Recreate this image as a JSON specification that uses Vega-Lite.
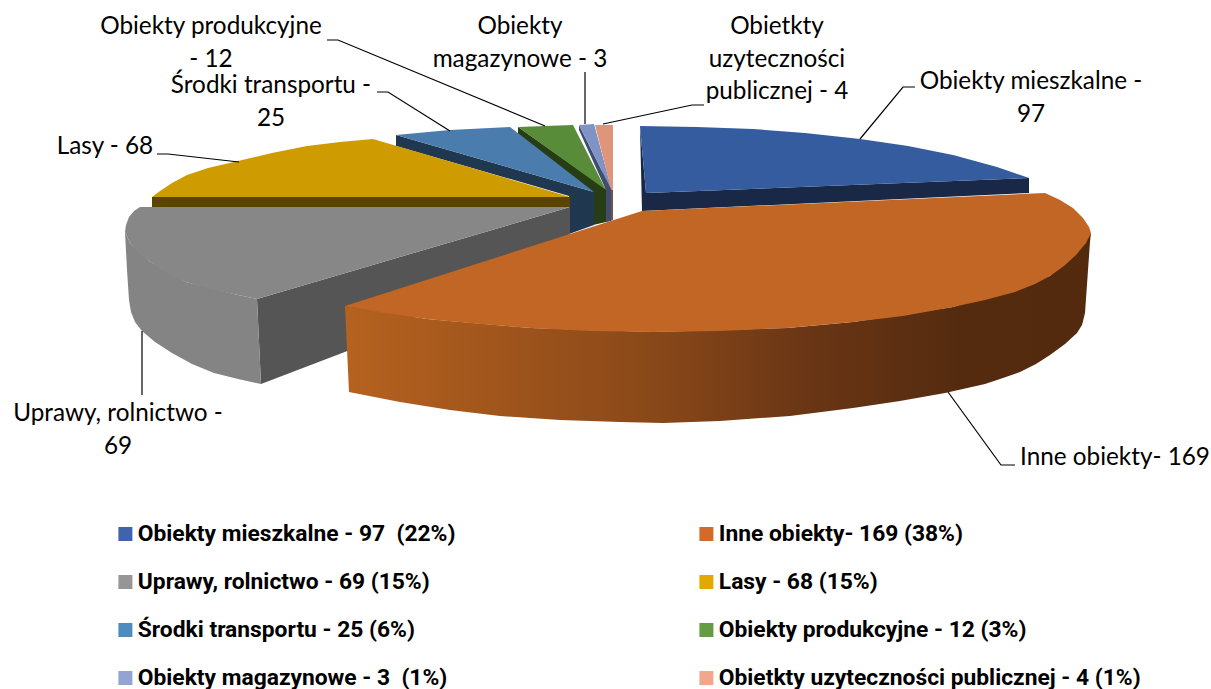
{"$schema":"https://vega.github.io/schema/vega-lite/v6.json","width":1211,"height":689,"padding":0,"autosize":{"type":"none"},"background":"white","view":{"stroke":null},
"datasets":{
"outline":[
{"p":"uzytecznosc side","s":1,"x":594,"y":125},{"p":"uzytecznosc side","s":2,"x":611,"y":189},{"p":"uzytecznosc side","s":3,"x":613,"y":190},{"p":"uzytecznosc side","s":4,"x":613,"y":220},{"p":"uzytecznosc side","s":5,"x":606,"y":222},{"p":"uzytecznosc side","s":6,"x":606,"y":190},
{"p":"uzytecznosc top","s":1,"x":595,"y":125},{"p":"uzytecznosc top","s":2,"x":613,"y":125},{"p":"uzytecznosc top","s":3,"x":613,"y":190},{"p":"uzytecznosc top","s":4,"x":611,"y":189},
{"p":"magazynowe side","s":1,"x":579,"y":125},{"p":"magazynowe side","s":2,"x":611,"y":189},{"p":"magazynowe side","s":3,"x":611,"y":221},{"p":"magazynowe side","s":4,"x":606,"y":222},{"p":"magazynowe side","s":5,"x":606,"y":190},{"p":"magazynowe side","s":6,"x":579,"y":130},
{"p":"magazynowe top","s":1,"x":579,"y":125},{"p":"magazynowe top","s":2,"x":594,"y":124},{"p":"magazynowe top","s":3,"x":611,"y":189},
{"p":"produkcyjne side","s":1,"x":518,"y":127},{"p":"produkcyjne side","s":2,"x":606,"y":189},{"p":"produkcyjne side","s":3,"x":606,"y":222},{"p":"produkcyjne side","s":4,"x":593,"y":225},{"p":"produkcyjne side","s":5,"x":593,"y":192},{"p":"produkcyjne side","s":6,"x":518,"y":134},
{"p":"produkcyjne top","s":1,"x":518,"y":127},{"p":"produkcyjne top","s":2,"x":545,"y":126},{"p":"produkcyjne top","s":3,"x":573,"y":125},{"p":"produkcyjne top","s":4,"x":606,"y":190},
{"p":"transport side","s":1,"x":396,"y":135},{"p":"transport side","s":2,"x":594,"y":192},{"p":"transport side","s":3,"x":594,"y":225},{"p":"transport side","s":4,"x":569,"y":234},{"p":"transport side","s":5,"x":569,"y":196},{"p":"transport side","s":6,"x":396,"y":146},
{"p":"transport top","s":1,"x":396,"y":135},{"p":"transport top","s":2,"x":450,"y":130},{"p":"transport top","s":3,"x":510,"y":127},{"p":"transport top","s":4,"x":594,"y":192},
{"p":"lasy side","s":1,"x":152,"y":197},{"p":"lasy side","s":2,"x":570,"y":197},{"p":"lasy side","s":3,"x":570,"y":207},{"p":"lasy side","s":4,"x":152,"y":207},
{"p":"lasy top","s":1,"x":152,"y":197},{"p":"lasy top","s":2,"x":160,"y":191},{"p":"lasy top","s":3,"x":172,"y":183},{"p":"lasy top","s":4,"x":187,"y":175},{"p":"lasy top","s":5,"x":208,"y":168},{"p":"lasy top","s":6,"x":238,"y":161},{"p":"lasy top","s":7,"x":272,"y":153},{"p":"lasy top","s":8,"x":307,"y":146},{"p":"lasy top","s":9,"x":340,"y":142},{"p":"lasy top","s":10,"x":373,"y":139},{"p":"lasy top","s":11,"x":570,"y":197},
{"p":"uprawy dark","s":1,"x":570,"y":207},{"p":"uprawy dark","s":2,"x":257,"y":299},{"p":"uprawy dark","s":3,"x":261,"y":384},{"p":"uprawy dark","s":4,"x":350,"y":350},{"p":"uprawy dark","s":5,"x":570,"y":234},
{"p":"mieszkalne side","s":1,"x":640,"y":126},{"p":"mieszkalne side","s":2,"x":646,"y":193},{"p":"mieszkalne side","s":3,"x":1029,"y":178},{"p":"mieszkalne side","s":4,"x":1029,"y":193},{"p":"mieszkalne side","s":5,"x":642,"y":211},
{"p":"mieszkalne top","s":1,"x":640,"y":126},{"p":"mieszkalne top","s":2,"x":697,"y":127},{"p":"mieszkalne top","s":3,"x":753,"y":129},{"p":"mieszkalne top","s":4,"x":805,"y":133},{"p":"mieszkalne top","s":5,"x":860,"y":139},{"p":"mieszkalne top","s":6,"x":908,"y":146},{"p":"mieszkalne top","s":7,"x":953,"y":155},{"p":"mieszkalne top","s":8,"x":997,"y":167},{"p":"mieszkalne top","s":9,"x":1029,"y":178},{"p":"mieszkalne top","s":10,"x":646,"y":193},
{"p":"uprawy curve","s":1,"x":125,"y":232},{"p":"uprawy curve","s":2,"x":127,"y":270},{"p":"uprawy curve","s":3,"x":129,"y":300},{"p":"uprawy curve","s":4,"x":131,"y":312},{"p":"uprawy curve","s":5,"x":135,"y":322},{"p":"uprawy curve","s":6,"x":142,"y":331},{"p":"uprawy curve","s":7,"x":155,"y":342},{"p":"uprawy curve","s":8,"x":172,"y":353},{"p":"uprawy curve","s":9,"x":192,"y":364},{"p":"uprawy curve","s":10,"x":214,"y":373},{"p":"uprawy curve","s":11,"x":238,"y":379},{"p":"uprawy curve","s":12,"x":261,"y":384},{"p":"uprawy curve","s":13,"x":257,"y":299},{"p":"uprawy curve","s":14,"x":238,"y":295},{"p":"uprawy curve","s":15,"x":186,"y":282},{"p":"uprawy curve","s":16,"x":150,"y":262},{"p":"uprawy curve","s":17,"x":130,"y":243},
{"p":"uprawy top","s":1,"x":140,"y":207},{"p":"uprawy top","s":2,"x":570,"y":207},{"p":"uprawy top","s":3,"x":257,"y":299},{"p":"uprawy top","s":4,"x":238,"y":295},{"p":"uprawy top","s":5,"x":210,"y":289},{"p":"uprawy top","s":6,"x":186,"y":282},{"p":"uprawy top","s":7,"x":166,"y":273},{"p":"uprawy top","s":8,"x":150,"y":262},{"p":"uprawy top","s":9,"x":138,"y":252},{"p":"uprawy top","s":10,"x":130,"y":243},{"p":"uprawy top","s":11,"x":125,"y":232},{"p":"uprawy top","s":12,"x":126,"y":225},{"p":"uprawy top","s":13,"x":129,"y":217},{"p":"uprawy top","s":14,"x":134,"y":211},
{"p":"inne curve","s":1,"x":345,"y":306},{"p":"inne curve","s":2,"x":427,"y":319},{"p":"inne curve","s":3,"x":531,"y":328},{"p":"inne curve","s":4,"x":653,"y":332},{"p":"inne curve","s":5,"x":787,"y":328},{"p":"inne curve","s":6,"x":853,"y":322},{"p":"inne curve","s":7,"x":953,"y":307},{"p":"inne curve","s":8,"x":1050,"y":276},{"p":"inne curve","s":9,"x":1091,"y":233},{"p":"inne curve","s":10,"x":1090,"y":242},{"p":"inne curve","s":11,"x":1085,"y":313},{"p":"inne curve","s":12,"x":1082,"y":325},{"p":"inne curve","s":13,"x":1077,"y":333},{"p":"inne curve","s":14,"x":1065,"y":344},{"p":"inne curve","s":15,"x":1050,"y":355},{"p":"inne curve","s":16,"x":1036,"y":364},{"p":"inne curve","s":17,"x":1020,"y":372},{"p":"inne curve","s":18,"x":1003,"y":378},{"p":"inne curve","s":19,"x":985,"y":384},{"p":"inne curve","s":20,"x":945,"y":393},{"p":"inne curve","s":21,"x":900,"y":401},{"p":"inne curve","s":22,"x":853,"y":408},{"p":"inne curve","s":23,"x":790,"y":416},{"p":"inne curve","s":24,"x":720,"y":421},{"p":"inne curve","s":25,"x":663,"y":423},{"p":"inne curve","s":26,"x":620,"y":422},{"p":"inne curve","s":27,"x":560,"y":420},{"p":"inne curve","s":28,"x":500,"y":416},{"p":"inne curve","s":29,"x":450,"y":410},{"p":"inne curve","s":30,"x":400,"y":402},{"p":"inne curve","s":31,"x":349,"y":392},
{"p":"inne top","s":1,"x":345,"y":306},{"p":"inne top","s":2,"x":642,"y":211},{"p":"inne top","s":3,"x":1045,"y":193},{"p":"inne top","s":4,"x":1060,"y":200},{"p":"inne top","s":5,"x":1073,"y":208},{"p":"inne top","s":6,"x":1083,"y":218},{"p":"inne top","s":7,"x":1089,"y":227},{"p":"inne top","s":8,"x":1091,"y":233},{"p":"inne top","s":9,"x":1086,"y":243},{"p":"inne top","s":10,"x":1076,"y":255},{"p":"inne top","s":11,"x":1064,"y":266},{"p":"inne top","s":12,"x":1050,"y":276},{"p":"inne top","s":13,"x":1035,"y":284},{"p":"inne top","s":14,"x":1015,"y":292},{"p":"inne top","s":15,"x":985,"y":300},{"p":"inne top","s":16,"x":953,"y":307},{"p":"inne top","s":17,"x":903,"y":316},{"p":"inne top","s":18,"x":853,"y":322},{"p":"inne top","s":19,"x":787,"y":328},{"p":"inne top","s":20,"x":720,"y":331},{"p":"inne top","s":21,"x":653,"y":332},{"p":"inne top","s":22,"x":590,"y":331},{"p":"inne top","s":23,"x":531,"y":328},{"p":"inne top","s":24,"x":480,"y":324},{"p":"inne top","s":25,"x":427,"y":319},{"p":"inne top","s":26,"x":385,"y":313}
],
"leaders":[
{"n":"mieszkalne","s":1,"x":860,"y":139},{"n":"mieszkalne","s":2,"x":903,"y":87},{"n":"mieszkalne","s":3,"x":915,"y":87},
{"n":"inne","s":1,"x":948,"y":392},{"n":"inne","s":2,"x":1001,"y":465},{"n":"inne","s":3,"x":1015,"y":465},
{"n":"uprawy","s":1,"x":142,"y":331},{"n":"uprawy","s":2,"x":142,"y":395},
{"n":"lasy","s":1,"x":239,"y":162},{"n":"lasy","s":2,"x":168,"y":154},{"n":"lasy","s":3,"x":157,"y":154},
{"n":"transport","s":1,"x":450,"y":131},{"n":"transport","s":2,"x":388,"y":92},{"n":"transport","s":3,"x":377,"y":92},
{"n":"produkcyjne","s":1,"x":545,"y":126},{"n":"produkcyjne","s":2,"x":338,"y":40},{"n":"produkcyjne","s":3,"x":327,"y":40},
{"n":"magazynowe","s":1,"x":585,"y":124},{"n":"magazynowe","s":2,"x":585,"y":72},
{"n":"uzytecznosc","s":1,"x":603,"y":124},{"n":"uzytecznosc","s":2,"x":692,"y":105},{"n":"uzytecznosc","s":3,"x":704,"y":105}
],
"labels":[
{"label":"Obiekty mieszkalne -\n97","x":1031,"y":82},
{"label":"Inne obiekty- 169","x":1115,"y":458},
{"label":"Uprawy, rolnictwo -\n69","x":118,"y":414},
{"label":"Lasy - 68","x":105,"y":147},
{"label":"Środki transportu -\n25","x":271,"y":86},
{"label":"Obiekty produkcyjne\n- 12","x":211,"y":27},
{"label":"Obiekty\nmagazynowe - 3","x":520,"y":27},
{"label":"Obietkty\nuzyteczności\npublicznej - 4","x":777,"y":27}
],
"legendRows":[
{"entry":"Obiekty mieszkalne - 97 \u00a0(22%)","value":97},
{"entry":"Inne obiekty- 169 (38%)","value":169},
{"entry":"Uprawy, rolnictwo - 69 (15%)","value":69},
{"entry":"Lasy - 68 (15%)","value":68},
{"entry":"Środki transportu - 25 (6%)","value":25},
{"entry":"Obiekty produkcyjne - 12 (3%)","value":12},
{"entry":"Obiekty magazynowe - 3 \u00a0(1%)","value":3},
{"entry":"Obietkty uzyteczności publicznej - 4 (1%)","value":4}
]},
"data":{"name":"outline"},
"encoding":{
"x":{"field":"x","type":"quantitative","scale":{"domain":[0,1211],"nice":false,"zero":false},"axis":null},
"y":{"field":"y","type":"quantitative","scale":{"domain":[689,0],"nice":false,"zero":false},"axis":null}
},
"layer":[
{"transform":[{"filter":{"field":"p","oneOf":["uzytecznosc side","uzytecznosc top","magazynowe side","magazynowe top","produkcyjne side","produkcyjne top","transport side","transport top","lasy side","lasy top","uprawy dark","mieszkalne side","mieszkalne top"]}}],
"mark":{"type":"line","strokeWidth":0,"clip":false},
"encoding":{"order":{"field":"s","type":"quantitative"},"fill":{"field":"p","type":"nominal","legend":null,"sort":null,"scale":{"domain":["uzytecznosc side","uzytecznosc top","magazynowe side","magazynowe top","produkcyjne side","produkcyjne top","transport side","transport top","lasy side","lasy top","uprawy dark","mieszkalne side","mieszkalne top","uprawy top","inne top"],"range":["#6E5550","#DF9579","#414C6E","#7F93C5","#263D16","#598C39","#1F3850","#4A7CAD","#5C4400","#CF9C00","#555555","#182846","#355C9E","#878787","#C16625"]}}}},
{"transform":[{"filter":{"field":"p","equal":"uprawy curve"}}],
"mark":{"type":"line","strokeWidth":0,"fill":"#848484"},
"encoding":{"order":{"field":"s","type":"quantitative"}}},
{"transform":[{"filter":{"field":"p","equal":"uprawy top"}}],
"mark":{"type":"line","strokeWidth":0,"fill":"#878787"},
"encoding":{"order":{"field":"s","type":"quantitative"}}},
{"transform":[{"filter":{"field":"p","equal":"inne curve"}}],
"mark":{"type":"line","strokeWidth":0,"fill":{"gradient":"linear","x1":0,"x2":1,"y1":0,"y2":0,"stops":[{"offset":0,"color":"#B6621F"},{"offset":0.4,"color":"#8B4919"},{"offset":0.62,"color":"#6A3615"},{"offset":0.82,"color":"#552B0F"},{"offset":1,"color":"#532A0E"}]}},
"encoding":{"order":{"field":"s","type":"quantitative"}}},
{"transform":[{"filter":{"field":"p","equal":"inne top"}}],
"mark":{"type":"line","strokeWidth":0,"fill":"#C16625"},
"encoding":{"order":{"field":"s","type":"quantitative"}}},
{"data":{"name":"leaders"},"mark":{"type":"line","stroke":"#000000","strokeWidth":1.2},
"encoding":{"detail":{"field":"n"},"order":{"field":"s","type":"quantitative"}}},
{"data":{"name":"labels"},"mark":{"type":"text","font":"Lato","fontSize":24.3,"color":"#000000","align":"center","baseline":"middle","lineBreak":"\n","lineHeight":32.5},
"encoding":{"text":{"field":"label"}}},
{"data":{"name":"legendRows"},"mark":{"type":"point","filled":true,"opacity":0},
"encoding":{"x":{"value":0},"y":{"value":0},"color":{"field":"entry","type":"nominal","sort":null,
"scale":{"domain":["Obiekty mieszkalne - 97 \u00a0(22%)","Inne obiekty- 169 (38%)","Uprawy, rolnictwo - 69 (15%)","Lasy - 68 (15%)","Środki transportu - 25 (6%)","Obiekty produkcyjne - 12 (3%)","Obiekty magazynowe - 3 \u00a0(1%)","Obietkty uzyteczności publicznej - 4 (1%)"],"range":["#3F64A9","#D26A2A","#969696","#E2AA00","#4E8CBF","#639C42","#93A4D3","#F0A78C"]},
"legend":{"title":null,"orient":"none","legendX":114,"legendY":519,"direction":"horizontal","columns":2,"symbolType":"square","symbolSize":196,"symbolOpacity":1,"symbolStrokeWidth":0,"labelFont":"Roboto","labelFontWeight":"bold","labelFontSize":22.8,"labelColor":"#000000","labelLimit":600,"labelOffset":1,"rowPadding":18,"columnPadding":239,"padding":0,"clipHeight":30}}}}
],
"config":{"style":{"cell":{"stroke":null}}}
}
